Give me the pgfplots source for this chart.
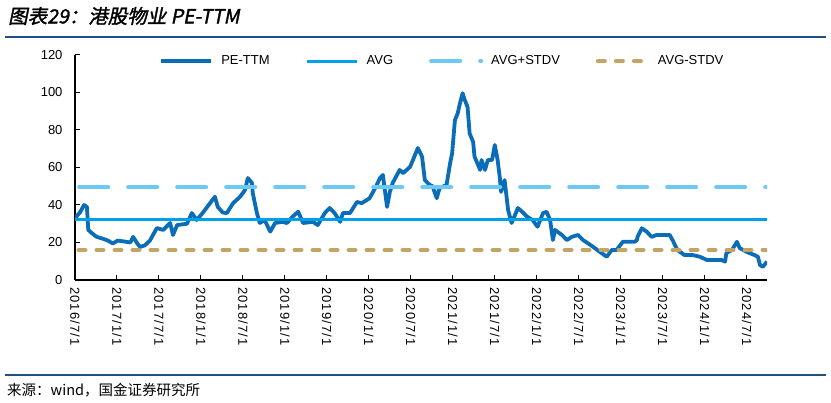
\documentclass[border=0pt]{standalone}
\usepackage{pgfplots}
\pgfplotsset{compat=1.18}
\usepackage{fontspec}
\setmainfont{Liberation Sans}
\newfontfamily\cjk{Noto Sans CJK SC}
\newfontfamily\cjktitle[FakeSlant=0.2,FakeBold=1.5]{Noto Sans CJK SC}
\newfontfamily\datefont[LetterSpace=9]{Liberation Sans}

\definecolor{pe}{HTML}{0B6DB7}
\definecolor{avg}{HTML}{00A0E9}
\definecolor{avgp}{HTML}{6CC8F5}
\definecolor{avgm}{HTML}{C4A464}
\definecolor{rule}{HTML}{1F5283}

\begin{document}
\begin{tikzpicture}
\useasboundingbox (0,0) rectangle (831pt,403pt);
% header / footer
\node[anchor=west,inner sep=0pt] at (8pt,387pt) {\cjktitle\fontsize{19.5}{19.5}\selectfont 图表29：港股物业 PE-TTM};
\draw[rule,line width=1.8pt] (5pt,366pt) -- (826pt,366pt);
\draw[rule,line width=1.5pt] (5pt,28pt) -- (826pt,28pt);
\node[anchor=west,inner sep=0pt] at (7pt,13pt) {\cjk\fontsize{14.5}{14.5}\selectfont 来源：wind，国金证券研究所};

\begin{axis}[
  scale only axis,
  width=692pt, height=225pt,
  at={(75pt,123pt)}, anchor=south west,
  xmin=0, xmax=98.9,
  ymin=0, ymax=120,
  ytick={0,20,...,120},
  xtick={0,6,...,96},
  xticklabels={2016/7/1,2017/1/1,2017/7/1,2018/1/1,2018/7/1,2019/1/1,2019/7/1,2020/1/1,2020/7/1,2021/1/1,2021/7/1,2022/1/1,2022/7/1,2023/1/1,2023/7/1,2024/1/1,2024/7/1},
  x tick label style={rotate=-90,anchor=west,inner sep=0pt,font=\datefont\fontsize{13}{13}\selectfont},
  xticklabel shift=7pt,
  yticklabel shift=9pt,
  axis lines=left,
  axis line style={black,line width=1.3pt,-},
  tick align=inside,
  major tick length=5pt,
  tick style={black,line width=1pt},
  y tick label style={font=\fontsize{13}{13}\selectfont},
  /pgf/number format/assume math mode=true,
  legend columns=4,
  legend style={at={(0.531,1.015)},anchor=north,draw=none,fill=none,
    font=\fontsize{13}{13}\selectfont,
    /tikz/every even column/.append style={column sep=34pt}},
  legend cell align=left,
  legend image code/.code={\draw[#1] (0pt,0pt) -- (50pt,0pt); \path (56pt,0pt);},
]

\addplot[pe,line width=3.8pt,line join=round] coordinates {
(0,33) (0.7,36) (1.3,40) (1.7,39) (1.9,26.7) (2.4,25) (3.1,23) (4,22)
(4.7,21) (5.4,19.5) (6.1,21) (7.1,20.5) (7.9,20) (8.3,23) (8.9,19.5)
(9.3,17.6) (10,18.5) (10.7,21) (11.7,27.7) (12.6,26.7) (13.6,30.4)
(14,24) (14.6,29.3) (16,30) (16.7,35.7) (17.4,32) (18.3,36) (19.3,41)
(20,44.4) (20.4,39) (21.1,36) (21.7,35.7) (22.6,41) (23.6,44.4)
(24.3,48) (24.7,54.4) (25.3,51.7) (25.4,46.4) (26,35.7) (26.4,30.4)
(27.1,32) (27.9,25.8) (28.6,30.4) (29.6,31) (30.3,30.4) (31.1,33.8)
(31.9,36.4) (32.6,30.4) (34,31) (34.7,29.3) (35.7,35.7) (36.4,38.4)
(37.1,35.7) (37.9,31) (38.3,35.7) (39.3,35.7) (40.3,41.6) (41,41)
(42.1,43.6) (42.9,49) (43.6,54.4) (44,56) (44.6,39) (45,47) (45.4,51.7)
(46.4,58.7) (46.9,57) (47.9,60.4) (48.3,64) (49,70.4) (49.6,65.8)
(50,53.3) (50.7,50.7) (51.1,50) (51.7,43.6) (52.1,49) (53.1,50.7)
(53.6,62) (53.9,67.6) (54.3,85.3) (54.7,88.9) (55,94) (55.4,99.6)
(55.7,96) (56.1,92.4) (56.4,78.2) (56.9,73.6) (57.1,65.8) (57.9,58.7)
(58.1,64) (58.6,58.7) (59,64) (59.6,64) (60,72) (60.4,64) (60.7,55)
(60.9,47) (61.1,50) (61.4,53.3) (61.9,37.3) (62.4,30.4) (62.7,33)
(63.3,38.4) (63.9,36.4) (64.6,33.8) (65.4,32) (66.1,28.4) (66.9,35.7)
(67.4,36.4) (67.9,32) (68.3,21.3) (68.6,26.7) (69.6,24) (70.3,21.3)
(71,23) (71.9,24) (72.6,21.3) (73.3,19.6) (74,17.8) (75,15) (76,12.4)
(76.7,16) (77.4,16) (78.3,20.4) (79.3,20.4) (80,20.4) (80.3,21.3)
(80.4,23) (81,27.6) (81.7,25.8) (82.4,23) (83.1,24) (84,24) (85,24)
(85.4,21.3) (86.1,16) (87.1,13.3) (88.3,13.3) (89.3,12.4) (90.3,10.7)
(91.7,10.7) (92.4,10.7) (92.9,9.8) (93.1,14.4) (93.9,16) (94.6,20.4)
(95,17) (96,15) (97.1,13.3) (97.6,12.4) (97.9,8) (98.3,7) (98.9,9.8)
};
\addlegendentry{PE-TTM}

\addplot[avg,line width=3pt] coordinates {(0,32.5) (98.9,32.5)};
\addlegendentry{AVG}

\addplot[avgp,line width=4pt,line cap=round,dash pattern=on 29pt off 20pt] coordinates {(0.6,49.5) (98.9,49.5)};
\addlegendentry{AVG+STDV}

\addplot[avgm,line width=4pt,line cap=round,dash pattern=on 7pt off 11pt] coordinates {(0.5,16) (98.9,16)};
\addlegendentry{AVG-STDV}

\end{axis}
\end{tikzpicture}
\end{document}
